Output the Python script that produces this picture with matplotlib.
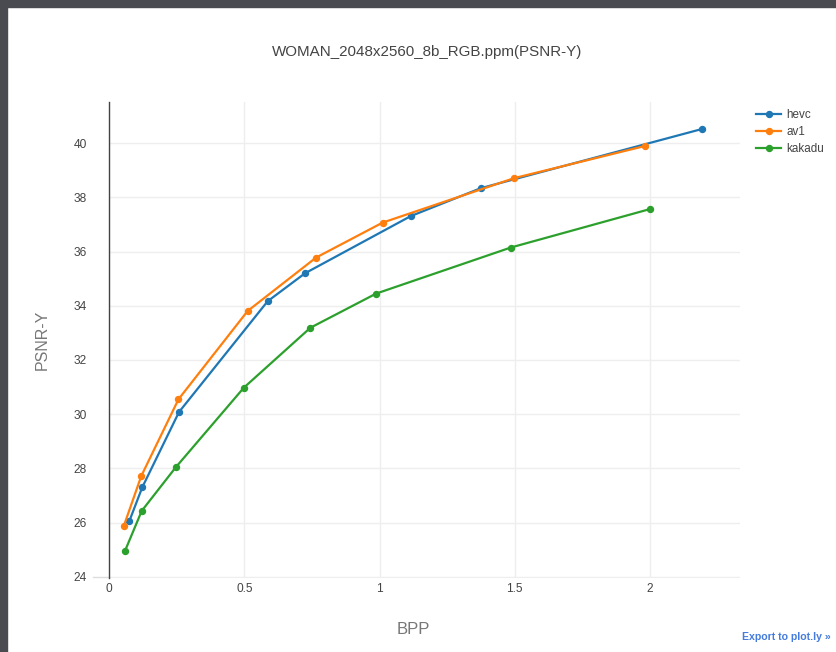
import matplotlib
matplotlib.use("Agg")
import matplotlib.pyplot as plt
from matplotlib.lines import Line2D
from matplotlib.patches import Rectangle

plt.rcParams['font.family'] = ['Liberation Sans', 'DejaVu Sans']

# Rate-distortion data (bits per pixel vs. PSNR on the luma channel)
hevc_bpp = [0.074, 0.122, 0.258, 0.586, 0.724, 1.115, 1.374, 2.194]
hevc_psnr = [26.05, 27.30, 30.08, 34.17, 35.20, 37.31, 38.34, 40.53]

av1_bpp = [0.054, 0.118, 0.256, 0.512, 0.765, 1.011, 1.497, 1.982]
av1_psnr = [25.88, 27.71, 30.55, 33.81, 35.78, 37.07, 38.71, 39.90]

kakadu_bpp = [0.058, 0.120, 0.246, 0.498, 0.744, 0.987, 1.485, 2.000]
kakadu_psnr = [24.95, 26.43, 28.04, 30.98, 33.19, 34.45, 36.15, 37.57]

series_names = ["hevc", "av1", "kakadu"]
series_colors = ["#1f77b4", "#ff7f0e", "#2ca02c"]

x_ticks = [0, 0.5, 1, 1.5, 2]
x_tick_labels = ["0", "0.5", "1", "1.5", "2"]
y_ticks = [24, 26, 28, 30, 32, 34, 36, 38, 40]

title = "WOMAN_2048x2560_8b_RGB.ppm(PSNR-Y)"

W, H = 837, 652
fig = plt.figure(figsize=(W / 100, H / 100), dpi=100)
fig.patch.set_facecolor("white")

# dark frame strips along top and left edges
frame_col = "#4a4b50"
fig.patches.append(Rectangle((0, 0), 7 / W, 1, transform=fig.transFigure,
                             color=frame_col, zorder=0))
fig.patches.append(Rectangle((0, 1 - 7 / H), 1, 7 / H, transform=fig.transFigure,
                             color=frame_col, zorder=0))

left, right, top, bottom = 109.3, 740, 102, 578
ax = fig.add_axes([left / W, 1 - bottom / H, (right - left) / W, (bottom - top) / H])
ax.set_facecolor("white")

xs = [hevc_bpp, av1_bpp, kakadu_bpp]
ys = [hevc_psnr, av1_psnr, kakadu_psnr]
for x, y, name, c in zip(xs, ys, series_names, series_colors):
    ax.plot(x, y, color=c, lw=1.6, marker="o", ms=4.3, label=name, zorder=3,
            solid_joinstyle="round")

ax.set_xlim(0, (right - left) / 270.3)
ax.set_ylim(24 - (bottom - 576.7) / 27.09, 24 + (576.7 - top) / 27.09)

ax.set_xticks(x_ticks)
ax.set_xticklabels(x_tick_labels)
ax.set_yticks(y_ticks)
ax.grid(True, color="#eeeeee", lw=1)
ax.set_axisbelow(True)
for s in ["top", "right", "bottom"]:
    ax.spines[s].set_visible(False)
ax.spines["left"].set_color("#444444")
ax.spines["left"].set_linewidth(1)
ax.tick_params(axis="both", length=0, colors="#444444", labelsize=8.6)
ax.tick_params(axis="y", pad=16)
ax.tick_params(axis="x", pad=3.5)

# short stub continuing the lowest gridline toward its label
ax.plot([-16 / 270.3, 0], [24, 24], color="#dddddd", lw=1, clip_on=False, zorder=1)

fig.text(427 / W, 1 - 52 / H, title, ha="center", va="center",
         fontsize=10.9, color="#444444")
fig.text(413 / W, 1 - 629 / H, "BPP", ha="center", va="center",
         fontsize=12, color="#777777")
fig.text(42 / W, 1 - 340 / H, "PSNR-Y", ha="center", va="center",
         rotation=90, fontsize=11.5, color="#777777")

handles = [Line2D([0], [0], color=c, lw=1.6, marker="o", ms=4.3) for c in series_colors]
leg = fig.legend(handles, series_names, loc="upper left",
                 bbox_to_anchor=(756.5 / W, 1 - 109 / H), frameon=False,
                 fontsize=8.4, handlelength=2.1, handletextpad=0.45,
                 labelspacing=0.45, borderaxespad=0, borderpad=0)
for t in leg.get_texts():
    t.set_color("#444444")

fig.text(831 / W, 1 - 637 / H, "Export to plot.ly \u00bb", ha="right", va="center",
         fontsize=7.6, color="#447bdc", fontweight="bold")

fig.savefig("out.png", dpi=100)
